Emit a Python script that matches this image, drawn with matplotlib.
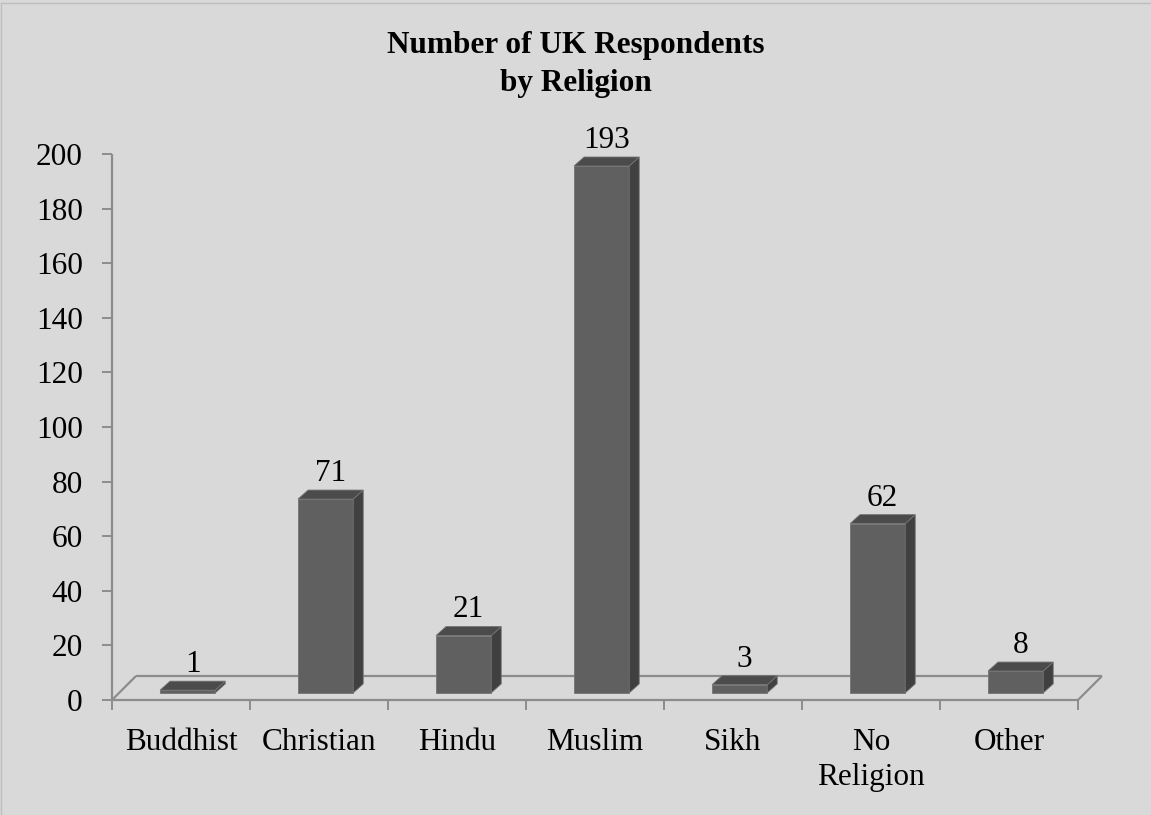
import matplotlib
matplotlib.use("Agg")
import matplotlib.pyplot as plt
from matplotlib.patches import Polygon
from matplotlib.lines import Line2D

categories = ["Buddhist", "Christian", "Hindu", "Muslim", "Sikh", "No\nReligion", "Other"]
values = [1, 71, 21, 193, 3, 62, 8]
yticks = [0, 20, 40, 60, 80, 100, 120, 140, 160, 180, 200]
title_lines = ["Number of UK Respondents", "by Religion"]

BG = "#d9d9d9"
AXC = "#8c8c8c"
FRONT = "#606060"
SIDE = "#404040"
TOP = "#4b4b4b"
EDGE = "#737373"
FS = 22.5

plt.rcParams["font.family"] = ["Liberation Serif", "DejaVu Serif"]

fig = plt.figure(figsize=(11.51, 8.15), dpi=100, facecolor=BG)
ax = fig.add_axes([112/1151, 1 - 700/815, 966/1151, 546/815])
ax.set_facecolor("none")
ax.set_xlim(-0.5, len(categories) - 0.5)
ax.set_ylim(0, 200)
for s in ax.spines.values():
    s.set_visible(False)

# 3D geometry in data units
floor_dx, floor_dy = 0.174, 8.8
bar_w = 0.40
bar_off = -0.152
bar_dx, bar_dy = 0.0725, 3.3
base = 2.6

n = len(categories)
x0, x1 = -0.5, n - 0.5
kw = dict(color=AXC, lw=1.6, clip_on=False, solid_capstyle="butt", zorder=1)
ax.add_line(Line2D([x0, x1], [0, 0], **kw))
ax.add_line(Line2D([x0 + floor_dx, x1 + floor_dx], [floor_dy, floor_dy], **kw))
ax.add_line(Line2D([x0, x0 + floor_dx], [0, floor_dy], **kw))
ax.add_line(Line2D([x1, x1 + floor_dx], [0, floor_dy], **kw))
ax.add_line(Line2D([x0, x0], [0, 200], **kw))

for i, v in enumerate(values):
    l = i + bar_off
    r = l + bar_w
    b = base
    t = base + v
    front = Polygon([(l, b), (r, b), (r, t), (l, t)], closed=True,
                    facecolor=FRONT, edgecolor=EDGE, lw=0.6, zorder=3, clip_on=False)
    side = Polygon([(r, b), (r + bar_dx, b + bar_dy), (r + bar_dx, t + bar_dy), (r, t)],
                   closed=True, facecolor=SIDE, edgecolor=EDGE, lw=0.6, zorder=3, clip_on=False)
    top = Polygon([(l, t), (r, t), (r + bar_dx, t + bar_dy), (l + bar_dx, t + bar_dy)],
                  closed=True, facecolor=TOP, edgecolor=EDGE, lw=0.6, zorder=3, clip_on=False)
    for p in (front, side, top):
        ax.add_patch(p)
    ax.annotate(str(v), xy=((l + r) / 2 + bar_dx / 2, t + bar_dy), xytext=(0, 1.5),
                textcoords="offset points", ha="center", va="bottom", fontsize=FS,
                color="black", zorder=4, annotation_clip=False)

ax.set_yticks(yticks)
ax.set_yticklabels([str(t) for t in yticks], fontsize=FS)
ax.tick_params(axis="y", length=7, width=1.4, color=AXC, pad=14, direction="out")
ax.set_xticks([i - 0.5 for i in range(n + 1)])
ax.set_xticklabels([])
ax.tick_params(axis="x", which="major", length=7, width=1.4, color=AXC, direction="out")
ax.set_xticks(list(range(n)), minor=True)
ax.set_xticklabels(categories, minor=True, fontsize=FS, linespacing=1.3)
ax.tick_params(axis="x", which="minor", length=0, pad=20)

fig.text(0.5, 1 - 53/815, title_lines[0], ha="center", va="baseline", fontsize=FS,
         fontweight="bold")
fig.text(0.5, 1 - 91/815, title_lines[1], ha="center", va="baseline", fontsize=FS,
         fontweight="bold")

fig.add_artist(Line2D([1/1151, 1/1151], [0, 1 - 3/815], transform=fig.transFigure,
                      color="#bfbfbf", lw=1))
fig.add_artist(Line2D([1/1151, 1], [1 - 3/815, 1 - 3/815], transform=fig.transFigure,
                      color="#bfbfbf", lw=1))

fig.savefig("out.png", dpi=100, facecolor=BG)
